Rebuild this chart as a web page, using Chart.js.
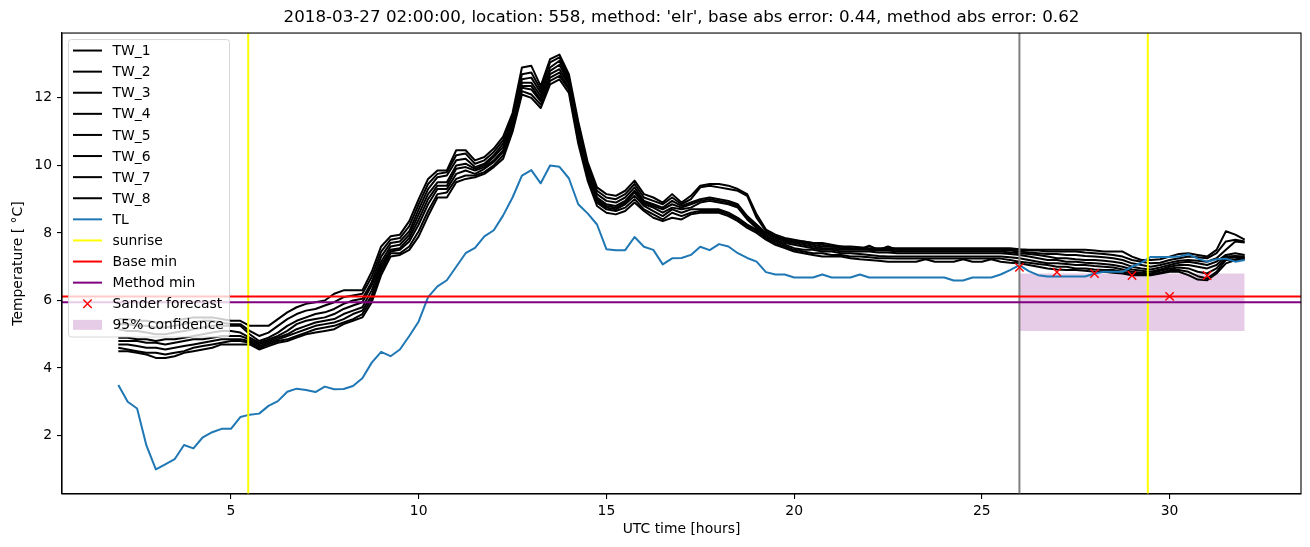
<!DOCTYPE html>
<html>
<head>
<meta charset="utf-8">
<script src="https://cdn.jsdelivr.net/npm/chart.js@4.4.0/dist/chart.umd.min.js"></script>
<style>
  html, body { margin: 0; padding: 0; background: #fff; }
</style>
</head>
<body>
<canvas id="chart" width="1310" height="547"></canvas>
<script>
// temperature forecast plot: TW sensors, TL, sunrise, min estimates, forecast

const FONT = "'DejaVu Sans', sans-serif";
const TITLE = "2018-03-27 02:00:00, location: 558, method: 'elr', base abs error: 0.44, method abs error: 0.62";

// sample grid, hours (UTC) in quarter-hour steps
const HOURS = Array.from({ length: 121 }, (_, i) => 2 + i * 0.25);

const TW_1 = [5.45,5.45,5.40,5.40,5.35,5.35,5.40,5.45,5.50,5.50,
  5.50,5.45,5.40,5.40,5.25,5.25,5.25,5.45,5.65,5.80,
  5.90,5.95,6.00,6.20,6.30,6.30,6.30,6.85,7.60,7.90,
  7.95,8.35,9.00,9.60,9.85,9.85,10.45,10.45,10.15,10.25,
  10.50,10.85,11.55,12.90,12.95,12.35,13.15,13.28,12.70,11.30,
  10.10,9.35,9.15,9.10,9.25,9.55,9.15,9.05,8.90,9.15,
  8.90,9.10,9.40,9.45,9.45,9.40,9.30,9.15,8.55,8.10,
  7.95,7.85,7.80,7.75,7.70,7.70,7.65,7.60,7.60,7.58,
  7.55,7.55,7.55,7.55,7.55,7.55,7.55,7.55,7.55,7.55,
  7.55,7.55,7.55,7.55,7.55,7.55,7.52,7.50,7.50,7.50,
  7.50,7.50,7.50,7.50,7.48,7.45,7.45,7.45,7.30,7.20,
  7.20,7.22,7.30,7.38,7.40,7.35,7.30,7.50,8.05,7.95,7.80];
const TW_2 = [5.30,5.30,5.25,5.25,5.20,5.20,5.25,5.30,5.35,5.40,
  5.40,5.35,5.30,5.30,5.10,4.95,5.05,5.25,5.45,5.60,
  5.70,5.75,5.85,5.95,6.10,6.15,6.20,6.70,7.45,7.80,
  7.85,8.20,8.85,9.45,9.75,9.80,10.30,10.35,10.05,10.15,
  10.40,10.75,11.45,12.70,12.75,12.25,13.05,13.20,12.60,11.20,
  10.00,9.25,9.05,9.00,9.15,9.45,9.05,8.95,8.85,9.05,
  8.85,9.00,9.35,9.40,9.35,9.30,9.25,9.10,8.45,8.05,
  7.90,7.80,7.75,7.75,7.70,7.65,7.60,7.60,7.55,7.55,
  7.50,7.50,7.50,7.50,7.50,7.50,7.50,7.50,7.50,7.50,
  7.50,7.50,7.50,7.50,7.50,7.50,7.50,7.48,7.48,7.45,
  7.45,7.45,7.45,7.42,7.40,7.38,7.35,7.30,7.20,7.15,
  7.10,7.12,7.20,7.25,7.30,7.28,7.25,7.40,7.75,7.80,7.75];
const TW_3 = [5.15,5.10,5.10,5.05,5.00,5.00,5.05,5.10,5.15,5.20,
  5.25,5.25,5.25,5.25,5.00,4.80,4.90,5.05,5.25,5.40,
  5.50,5.60,5.65,5.75,5.90,6.00,6.05,6.55,7.30,7.70,
  7.75,8.05,8.70,9.30,9.65,9.70,10.15,10.20,9.95,10.05,
  10.30,10.65,11.35,12.55,12.60,12.15,12.90,13.10,12.50,11.10,
  9.95,9.15,8.95,8.90,9.05,9.35,8.95,8.85,8.75,8.95,
  8.80,8.90,9.00,9.05,9.00,8.95,8.85,8.50,8.25,8.00,
  7.90,7.80,7.75,7.70,7.65,7.60,7.60,7.55,7.55,7.52,
  7.62,7.50,7.60,7.50,7.50,7.50,7.50,7.50,7.50,7.50,
  7.50,7.50,7.50,7.50,7.50,7.48,7.45,7.42,7.40,7.38,
  7.38,7.35,7.35,7.32,7.30,7.28,7.25,7.20,7.10,7.05,
  7.00,7.05,7.12,7.18,7.20,7.18,7.15,7.25,7.50,7.75,7.72];
const TW_4 = [4.90,4.90,4.85,4.85,4.80,4.85,4.85,4.90,4.95,5.00,
  5.05,5.10,5.10,5.05,4.90,4.75,4.85,4.95,5.10,5.30,
  5.40,5.45,5.50,5.60,5.75,5.85,5.95,6.45,7.15,7.60,
  7.65,7.95,8.55,9.15,9.50,9.50,10.00,10.05,9.90,10.00,
  10.25,10.55,11.30,12.45,12.45,12.05,12.80,12.98,12.45,11.00,
  9.85,9.05,8.85,8.80,8.95,9.25,8.90,8.80,8.70,8.85,
  8.75,8.85,8.95,9.00,8.95,8.90,8.80,8.45,8.20,7.95,
  7.85,7.75,7.70,7.65,7.60,7.55,7.55,7.50,7.50,7.50,
  7.50,7.48,7.48,7.45,7.45,7.45,7.45,7.45,7.45,7.45,
  7.45,7.45,7.45,7.45,7.45,7.42,7.40,7.38,7.35,7.30,
  7.25,7.25,7.22,7.20,7.20,7.18,7.15,7.10,7.00,6.95,
  6.92,6.98,7.05,7.12,7.15,7.10,7.05,7.15,7.35,7.40,7.35];
const TW_5 = [4.80,4.80,4.80,4.75,4.75,4.70,4.75,4.80,4.85,4.85,
  4.90,4.95,4.95,4.95,4.85,4.70,4.80,4.90,5.00,5.15,
  5.25,5.35,5.40,5.45,5.60,5.70,5.80,6.30,7.05,7.50,
  7.55,7.85,8.40,9.00,9.40,9.40,9.90,9.95,9.85,9.95,
  10.15,10.45,11.20,12.35,12.35,11.95,12.70,12.85,12.40,10.95,
  9.80,9.00,8.80,8.75,8.90,9.20,8.85,8.75,8.60,8.75,
  8.70,8.75,8.90,8.95,8.90,8.85,8.75,8.40,8.15,7.90,
  7.80,7.70,7.65,7.60,7.55,7.50,7.50,7.45,7.45,7.45,
  7.45,7.42,7.42,7.40,7.40,7.40,7.40,7.40,7.40,7.40,
  7.40,7.40,7.40,7.40,7.40,7.38,7.35,7.30,7.25,7.20,
  7.20,7.15,7.15,7.12,7.10,7.08,7.05,7.00,6.92,6.88,
  6.85,6.92,7.00,7.05,7.05,7.00,6.95,7.05,7.30,7.32,7.30];
const TW_6 = [4.70,4.70,4.65,4.60,4.60,4.55,4.60,4.65,4.70,4.75,
  4.80,4.85,4.85,4.85,4.80,4.65,4.75,4.85,4.95,5.05,
  5.15,5.25,5.30,5.35,5.45,5.60,5.70,6.15,6.95,7.45,
  7.50,7.75,8.25,8.85,9.30,9.30,9.75,9.85,9.75,9.90,
  10.10,10.40,11.15,12.30,12.25,11.90,12.60,12.75,12.30,10.85,
  9.70,8.95,8.75,8.70,8.85,9.10,8.80,8.65,8.50,8.70,
  8.60,8.70,8.70,8.70,8.70,8.60,8.45,8.25,8.10,7.90,
  7.75,7.65,7.55,7.50,7.50,7.45,7.45,7.40,7.40,7.38,
  7.35,7.32,7.30,7.30,7.30,7.30,7.30,7.30,7.30,7.30,
  7.30,7.30,7.30,7.30,7.30,7.28,7.25,7.20,7.15,7.10,
  7.10,7.08,7.05,7.05,7.02,7.00,6.98,6.92,6.85,6.82,
  6.80,6.88,6.95,6.98,6.95,6.85,6.80,6.95,7.25,7.28,7.28];
const TW_7 = [4.60,4.55,4.50,4.45,4.45,4.40,4.45,4.50,4.60,4.65,
  4.70,4.75,4.80,4.80,4.75,4.60,4.70,4.80,4.85,4.95,
  5.05,5.15,5.20,5.25,5.35,5.45,5.60,6.05,6.85,7.40,
  7.40,7.60,8.05,8.65,9.15,9.20,9.60,9.70,9.70,9.80,
  10.00,10.30,11.05,12.20,12.10,11.80,12.50,12.65,12.25,10.75,
  9.65,8.90,8.70,8.65,8.75,9.00,8.70,8.55,8.40,8.60,
  8.50,8.60,8.65,8.65,8.65,8.55,8.40,8.20,8.05,7.85,
  7.70,7.60,7.50,7.45,7.40,7.40,7.35,7.35,7.30,7.30,
  7.28,7.25,7.25,7.24,7.24,7.24,7.24,7.24,7.24,7.24,
  7.24,7.24,7.24,7.24,7.24,7.20,7.15,7.12,7.08,7.05,
  7.00,7.00,6.95,6.95,6.92,6.90,6.90,6.85,6.80,6.78,
  6.78,6.82,6.90,6.90,6.85,6.72,6.65,6.85,7.20,7.22,7.25];
const TW_8 = [4.50,4.50,4.45,4.40,4.30,4.30,4.35,4.45,4.50,4.55,
  4.60,4.70,4.70,4.70,4.70,4.55,4.65,4.75,4.80,4.90,
  5.00,5.05,5.10,5.15,5.30,5.40,5.50,5.95,6.75,7.30,
  7.35,7.50,7.90,8.50,9.05,9.05,9.50,9.60,9.65,9.75,
  9.95,10.20,11.00,12.10,12.00,11.70,12.40,12.55,12.15,10.65,
  9.55,8.80,8.60,8.55,8.65,8.90,8.65,8.45,8.35,8.45,
  8.40,8.55,8.60,8.60,8.60,8.50,8.35,8.15,8.00,7.80,
  7.65,7.55,7.45,7.40,7.35,7.30,7.30,7.30,7.25,7.22,
  7.20,7.18,7.15,7.15,7.15,7.15,7.22,7.15,7.15,7.15,
  7.22,7.15,7.15,7.22,7.15,7.12,7.10,7.05,7.00,6.95,
  6.92,6.90,6.90,6.88,6.85,6.85,6.82,6.80,6.75,6.75,
  6.75,6.80,6.85,6.85,6.75,6.62,6.60,6.80,7.10,7.20,7.22];
const TL = [3.50,3.00,2.80,1.70,1.00,1.15,1.30,1.72,1.62,1.95,
  2.10,2.20,2.20,2.55,2.62,2.65,2.88,3.02,3.30,3.39,
  3.35,3.29,3.45,3.37,3.38,3.47,3.70,4.16,4.48,4.35,
  4.55,4.95,5.38,6.10,6.42,6.60,7.00,7.40,7.56,7.90,
  8.08,8.52,9.05,9.70,9.86,9.47,10.00,9.96,9.62,8.85,
  8.58,8.25,7.52,7.49,7.49,7.88,7.59,7.50,7.07,7.25,
  7.26,7.35,7.59,7.49,7.67,7.60,7.40,7.26,7.15,6.84,
  6.77,6.77,6.68,6.68,6.68,6.77,6.68,6.68,6.68,6.77,
  6.68,6.68,6.68,6.68,6.68,6.68,6.68,6.68,6.68,6.59,
  6.59,6.68,6.68,6.68,6.77,6.90,7.05,6.87,6.75,6.71,
  6.71,6.71,6.71,6.71,6.80,6.85,6.85,6.85,7.00,7.12,
  7.29,7.29,7.29,7.30,7.37,7.24,7.15,7.22,7.24,7.15,7.20];

const TW_SERIES = [TW_1, TW_2, TW_3, TW_4, TW_5, TW_6, TW_7, TW_8];
const TW_NAMES = ['TW_1', 'TW_2', 'TW_3', 'TW_4', 'TW_5', 'TW_6', 'TW_7', 'TW_8'];

const SUNRISE_HOURS = [5.46, 29.42];
const NOW_HOUR = 26;
const BASE_MIN = 6.12;
const METHOD_MIN = 5.95;
const FORECAST_HOURS = [26, 27, 28, 29, 30, 31];
const FORECAST_VALUES = [6.98, 6.84, 6.80, 6.74, 6.12, 6.74];
const CONF_HOURS = [26, 32];
const CONF_LOW = 5.10;
const CONF_HIGH = 6.80;

const X_MIN = 0.5, X_MAX = 33.5;
const Y_MIN = 0.27, Y_MAX = 13.92;
const X_TICKS = [5, 10, 15, 20, 25, 30];
const Y_TICKS = [2, 4, 6, 8, 10, 12];

const pts = (xs, ys) => xs.map((x, i) => ({ x, y: ys[i] }));

const lineDefaults = { type: 'line', pointRadius: 0, borderWidth: 2, tension: 0, fill: false, borderJoinStyle: 'round' };

const datasets = [];
datasets.push({
  ...lineDefaults, label: '95% confidence',
  data: CONF_HOURS.map(x => ({ x, y: CONF_HIGH })),
  fill: { value: CONF_LOW }, backgroundColor: 'rgba(128,0,128,0.2)', borderWidth: 0, order: 30
});
TW_SERIES.forEach((s, i) => {
  datasets.push({ ...lineDefaults, label: TW_NAMES[i], data: pts(HOURS, s), borderColor: '#000', order: 29 - i });
});
datasets.push({ ...lineDefaults, label: 'TL', data: pts(HOURS, TL), borderColor: '#1f77b4', order: 20 });
datasets.push({ ...lineDefaults, label: 'now', data: [{ x: NOW_HOUR, y: Y_MIN }, { x: NOW_HOUR, y: Y_MAX }], borderColor: 'gray', order: 19 });
SUNRISE_HOURS.forEach((h, i) => {
  datasets.push({ ...lineDefaults, label: 'sunrise', data: [{ x: h, y: Y_MIN }, { x: h, y: Y_MAX }], borderColor: 'yellow', order: 18 - i });
});
datasets.push({ ...lineDefaults, label: 'Base min', data: [{ x: X_MIN, y: BASE_MIN }, { x: X_MAX, y: BASE_MIN }], borderColor: 'red', order: 15 });
datasets.push({ ...lineDefaults, label: 'Method min', data: [{ x: X_MIN, y: METHOD_MIN }, { x: X_MAX, y: METHOD_MIN }], borderColor: 'purple', order: 14 });
datasets.push({
  type: 'scatter', label: 'Sander forecast', data: pts(FORECAST_HOURS, FORECAST_VALUES),
  pointStyle: 'crossRot', pointRadius: 5.9, borderColor: 'red', backgroundColor: 'red', pointBorderWidth: 1.4, order: 10
});

const LEGEND_ITEMS = [
  ...TW_NAMES.map(n => ({ label: n, kind: 'line', color: '#000' })),
  { label: 'TL', kind: 'line', color: '#1f77b4' },
  { label: 'sunrise', kind: 'line', color: 'yellow' },
  { label: 'Base min', kind: 'line', color: 'red' },
  { label: 'Method min', kind: 'line', color: 'purple' },
  { label: 'Sander forecast', kind: 'cross', color: 'red' },
  { label: '95% confidence', kind: 'rect', color: 'rgba(128,0,128,0.2)' }
];

const framePlugin = {
  id: 'frame',
  afterDatasetsDraw(chart) {
    const { ctx, chartArea: a } = chart;
    ctx.save();
    ctx.strokeStyle = '#000';
    ctx.lineWidth = 1.1;
    ctx.strokeRect(a.left, a.top, a.right - a.left, a.bottom - a.top);
    ctx.restore();
  }
};

const legendPlugin = {
  id: 'boxLegend',
  afterDraw(chart) {
    const { ctx, chartArea: a } = chart;
    const x0 = a.left + 6.5, y0 = a.top + 6.5, w = 161, h = 297.5, r = 3;
    ctx.save();
    ctx.beginPath();
    ctx.moveTo(x0 + r, y0);
    ctx.arcTo(x0 + w, y0, x0 + w, y0 + h, r);
    ctx.arcTo(x0 + w, y0 + h, x0, y0 + h, r);
    ctx.arcTo(x0, y0 + h, x0, y0, r);
    ctx.arcTo(x0, y0, x0 + w, y0, r);
    ctx.closePath();
    ctx.fillStyle = 'rgba(255,255,255,0.8)';
    ctx.fill();
    ctx.strokeStyle = 'rgba(204,204,204,0.8)';
    ctx.lineWidth = 1;
    ctx.stroke();

    ctx.font = '13.9px ' + FONT;
    ctx.textBaseline = 'middle';
    ctx.textAlign = 'left';
    const hx0 = x0 + 4.5, hx1 = hx0 + 29;
    LEGEND_ITEMS.forEach((it, i) => {
      const y = y0 + 11 + i * 21.1;
      if (it.kind === 'line') {
        ctx.strokeStyle = it.color;
        ctx.lineWidth = 2;
        ctx.beginPath(); ctx.moveTo(hx0, y); ctx.lineTo(hx1, y); ctx.stroke();
      } else if (it.kind === 'cross') {
        const cx = (hx0 + hx1) / 2, d = 4.2;
        ctx.strokeStyle = it.color;
        ctx.lineWidth = 1.4;
        ctx.beginPath();
        ctx.moveTo(cx - d, y - d); ctx.lineTo(cx + d, y + d);
        ctx.moveTo(cx - d, y + d); ctx.lineTo(cx + d, y - d);
        ctx.stroke();
      } else {
        ctx.fillStyle = it.color;
        ctx.fillRect(hx0, y - 5, hx1 - hx0, 10);
      }
      ctx.fillStyle = '#000';
      ctx.fillText(it.label, hx1 + 10.5, y + 1);
    });
    ctx.restore();
  }
};

const tickFont = { family: FONT, size: 13.9 };

new Chart(document.getElementById('chart'), {
  data: { datasets },
  options: {
    responsive: false,
    animation: false,
    events: [],
    layout: { padding: { left: 0, right: 9, top: 0, bottom: 0 } },
    plugins: {
      legend: { display: false },
      tooltip: { enabled: false },
      title: {
        display: true, text: TITLE, fullSize: false, color: '#000',
        font: { family: FONT, size: 16.7, weight: 'normal', lineHeight: 1.2 },
        padding: { top: 8, bottom: 5 }
      }
    },
    scales: {
      x: {
        type: 'linear', min: X_MIN, max: X_MAX,
        afterBuildTicks: s => { s.ticks = X_TICKS.map(v => ({ value: v })); },
        afterFit: s => { s.height = 53; },
        grid: { drawOnChartArea: false, drawTicks: true, tickLength: 5, color: '#000', lineWidth: 1.1 },
        border: { display: true, color: '#000', width: 1.1 },
        ticks: { color: '#000', font: tickFont, padding: 4, maxRotation: 0, autoSkip: false },
        title: { display: true, text: 'UTC time [hours]', color: '#000', font: { ...tickFont, lineHeight: 2.6 }, padding: 0 }
      },
      y: {
        type: 'linear', min: Y_MIN, max: Y_MAX,
        afterBuildTicks: s => { s.ticks = Y_TICKS.map(v => ({ value: v })); },
        afterFit: s => { s.width = 62; },
        grid: { drawOnChartArea: false, drawTicks: true, tickLength: 5, color: '#000', lineWidth: 1.1 },
        border: { display: true, color: '#000', width: 1.1 },
        ticks: { color: '#000', font: tickFont, padding: 5 },
        title: { display: true, text: 'Temperature [ °C]', color: '#000', font: { ...tickFont, lineHeight: 2.6 }, padding: 0 }
      }
    }
  },
  plugins: [framePlugin, legendPlugin]
});
</script>
</body>
</html>
